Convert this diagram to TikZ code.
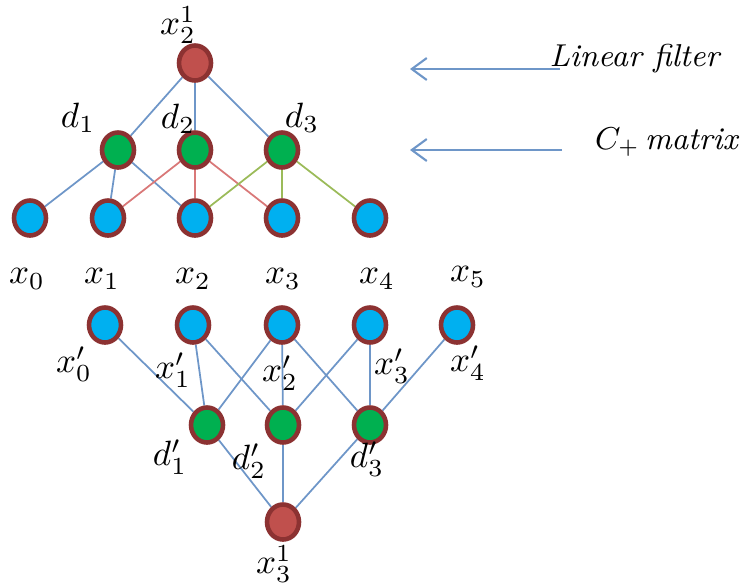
\documentclass[tikz,border=0pt]{standalone}
\usepackage{amsmath}
\usepackage{tikz}
\usetikzlibrary{shapes.geometric,arrows.meta,positioning,backgrounds}

\definecolor{ringred}{RGB}{140,50,50}
\definecolor{nodered}{RGB}{192,80,77}
\definecolor{nodeblue}{RGB}{0,176,240}
\definecolor{nodegreen}{RGB}{0,176,80}
\definecolor{lineblue}{RGB}{110,150,200}
\definecolor{linered}{RGB}{217,120,120}
\definecolor{linegreen}{RGB}{155,187,89}

\begin{document}
\begin{tikzpicture}[
        vert/.style={ellipse, draw=ringred, line width=1.3pt, minimum width=0.32cm, minimum height=0.35cm, inner sep=0pt},
        outnode/.style={vert, fill=nodered},
        dnode/.style={vert, fill=nodegreen},
        xnode/.style={vert, fill=nodeblue},
        lbl/.style={font=\normalsize, inner sep=0pt},
        blink/.style={lineblue, line width=0.5pt},
        rlink/.style={linered, line width=0.5pt},
        glink/.style={linegreen, line width=0.5pt},
        pointer/.style={lineblue, line width=0.6pt, -{Straight Barb[length=0.15cm, width=0.22cm]}}]
        \useasboundingbox (0,0) rectangle (7.45,-5.85);

        % Upper tree
        \node[outnode] (top) at (1.95, -0.63) {};
        \node[lbl] (top-l) at (1.78, -0.25) {$x_2^1$};

        \node[dnode] (d1) at (1.18, -1.50) {};
        \node[dnode] (d2) at (1.95, -1.50) {};
        \node[dnode] (d3) at (2.82, -1.50) {};
        \node[lbl] (d1-l) at (0.78, -1.18) {$d_1$};
        \node[lbl] (d2-l) at (1.78, -1.19) {$d_2$};
        \node[lbl] (d3-l) at (3.02, -1.18) {$d_3$};

        \node[xnode] (a0) at (0.30, -2.18) {};
        \node[xnode] (a1) at (1.08, -2.18) {};
        \node[xnode] (a2) at (1.95, -2.18) {};
        \node[xnode] (a3) at (2.82, -2.18) {};
        \node[xnode] (a4) at (3.70, -2.18) {};

        \begin{scope}[on background layer]
        \draw[blink] (top) -- (d1);
        \draw[blink] (top) -- (d2);
        \draw[blink] (top) -- (d3);
        \draw[blink] (d1) -- (a0);
        \draw[blink] (d1) -- (a1);
        \draw[blink] (d1) -- (a2);
        \draw[rlink] (d2) -- (a1);
        \draw[rlink] (d2) -- (a2);
        \draw[rlink] (d2) -- (a3);
        \draw[glink] (d3) -- (a2);
        \draw[glink] (d3) -- (a3);
        \draw[glink] (d3) -- (a4);
        \end{scope}

        % Sample labels
        \node[lbl] (x0) at (0.27, -2.79) {$x_0$};
        \node[lbl] (x1) at (1.02, -2.79) {$x_1$};
        \node[lbl] (x2) at (1.93, -2.79) {$x_2$};
        \node[lbl] (x3) at (2.83, -2.79) {$x_3$};
        \node[lbl] (x4) at (3.77, -2.79) {$x_4$};
        \node[lbl] (x5) at (4.68, -2.77) {$x_5$};

        % Lower tree
        \node[xnode] (b0) at (1.05, -3.25) {};
        \node[xnode] (b1) at (1.93, -3.25) {};
        \node[xnode] (b2) at (2.82, -3.25) {};
        \node[xnode] (b3) at (3.70, -3.25) {};
        \node[xnode] (b4) at (4.57, -3.25) {};
        \node[lbl] (b0-l) at (0.74, -3.64) {$x_0'$};
        \node[lbl] (b1-l) at (1.73, -3.70) {$x_1'$};
        \node[lbl] (b2-l) at (2.80, -3.73) {$x_2'$};
        \node[lbl] (b3-l) at (3.92, -3.66) {$x_3'$};
        \node[lbl] (b4-l) at (4.68, -3.63) {$x_4'$};

        \node[dnode] (e1) at (2.07, -4.25) {};
        \node[dnode] (e2) at (2.83, -4.25) {};
        \node[dnode] (e3) at (3.70, -4.25) {};
        \node[lbl] (e1-l) at (1.70, -4.57) {$d_1'$};
        \node[lbl] (e2-l) at (2.49, -4.61) {$d_2'$};
        \node[lbl] (e3-l) at (3.67, -4.59) {$d_3'$};

        \node[outnode] (bot) at (2.83, -5.22) {};
        \node[lbl] (bot-l) at (2.74, -5.64) {$x_3^1$};

        \begin{scope}[on background layer]
        \draw[blink] (b0) -- (e1);
        \draw[blink] (b1) -- (e1);
        \draw[blink] (b1) -- (e2);
        \draw[blink] (b2) -- (e1);
        \draw[blink] (b2) -- (e2);
        \draw[blink] (b2) -- (e3);
        \draw[blink] (b3) -- (e2);
        \draw[blink] (b3) -- (e3);
        \draw[blink] (b4) -- (e3);
        \draw[blink] (e1) -- (bot);
        \draw[blink] (e2) -- (bot);
        \draw[blink] (e3) -- (bot);
        \end{scope}

        % Side notes
        \coordinate (lf-tail) at (5.60, -0.69);
        \coordinate (lf-head) at (4.10, -0.69);
        \coordinate (cm-tail) at (5.62, -1.50);
        \coordinate (cm-head) at (4.10, -1.50);
        \draw[pointer] (lf-tail) -- (lf-head);
        \draw[pointer] (cm-tail) -- (cm-head);
        \node[font=\small\itshape, inner sep=0pt, anchor=east] (lf-l) at (7.20, -0.59) {Linear filter};
        \node[font=\small, inner sep=0pt, anchor=east] (cm-l) at (7.40, -1.42) {$C_+$\,\textit{matrix}};

    \end{tikzpicture}
\end{document}
